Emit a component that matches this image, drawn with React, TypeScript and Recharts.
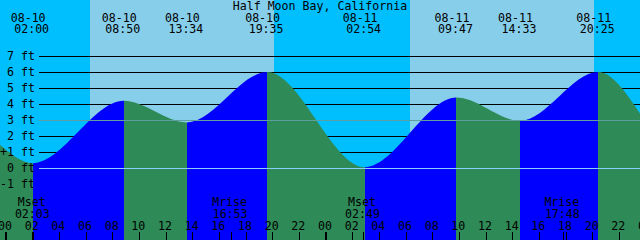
import { ComposedChart, XAxis, YAxis, Area, ReferenceArea, ReferenceLine, ReferenceDot } from 'recharts';

const stationName = 'Half Moon Bay, California';

// high / low water, as printed along the top
const eventDates = ['08-10', '08-10', '08-10', '08-10', '08-11', '08-11', '08-11', '08-11'];
const eventTimes = ['02:00', '08:50', '13:34', '19:35', '02:54', '09:47', '14:33', '20:25'];
const eventFeet = [0.3, 4.2, 2.85, 6.0, 0.05, 4.4, 2.95, 6.0];

// height of the tide where the window cuts the curve (left, right)
const edgeFeet = [1.45, 3.4];

// sunrise, sunset, sunrise, sunset
const sunDates = ['08-10', '08-10', '08-11', '08-11'];
const sunTimes = ['06:18', '20:06', '06:18', '20:06'];

const moonNames = ['Mset', 'Mrise', 'Mset', 'Mrise'];
const moonDates = ['08-10', '08-10', '08-11', '08-11'];
const moonTimes = ['02:03', '16:53', '02:49', '17:48'];

const hourTicks = [0, 2, 4, 6, 8, 10, 12, 14, 16, 18, 20, 22, 24, 26, 28, 30, 32, 34, 36, 38, 40, 42, 44, 46, 48];

const feetTicks = [7, 6, 5, 4, 3, 2, 1, 0, -1];
const feetLabels = [' 7 ft', ' 6 ft', ' 5 ft', ' 4 ft', ' 3 ft', ' 2 ft', '+1 ft', ' 0 ft', '-1 ft'];
const blackLevels = [7, 6, 5, 4, 2, 1];

const FONT = '"DejaVu Sans Mono", monospace';
const FONT_SIZE = 11.6;
const NIGHT = '#00BFFF';
const DAY = '#87CEEB';
const RISE = '#0000FF';
const FALL = '#2E8B57';

// hours since midnight of 08-10
const xMin = -0.45;
const xMax = 47.55;
const yMin = -4.5;
const yMax = 10.5;
const lineStart = 2.5;

const toHour = (date: string, time: string) => {
    const [hh, mm] = time.split(':').map(Number);
    return (date === '08-11' ? 24 : 0) + hh + mm / 60;
};

const tideData = [
    { hour: xMin, ft: edgeFeet[0] },
    ...eventTimes.map((t, i) => ({ hour: toHour(eventDates[i], t), ft: eventFeet[i] })),
    { hour: xMax, ft: edgeFeet[1] },
];

const sunHours = sunTimes.map((t, i) => toHour(sunDates[i], t));
const bands = [
    { x1: xMin, x2: sunHours[0], fill: NIGHT },
    { x1: sunHours[0], x2: sunHours[1], fill: DAY },
    { x1: sunHours[1], x2: sunHours[2], fill: NIGHT },
    { x1: sunHours[2], x2: sunHours[3], fill: DAY },
    { x1: sunHours[3], x2: xMax, fill: NIGHT },
];

// rising water blue, falling water green: hard stops at each turn of the tide
const gradientStops = () => {
    const span = xMax - xMin;
    const stops = [<stop key="s" offset={0} stopColor={FALL} />];
    let prev = FALL;
    for (let i = 1; i < tideData.length - 1; i++) {
        const p = tideData[i];
        const c = tideData[i + 1].ft > p.ft ? RISE : FALL;
        const off = (p.hour - xMin) / span;
        stops.push(<stop key={`a${i}`} offset={off} stopColor={prev} />);
        stops.push(<stop key={`b${i}`} offset={off} stopColor={c} />);
        prev = c;
    }
    stops.push(<stop key="e" offset={1} stopColor={prev} />);
    return stops;
};

const textProps = { fontFamily: FONT, fontSize: FONT_SIZE, fill: '#000' };

export default function App() {
    return (
        <div style={{ width: 640, height: 240 }}>
            <style>{'body { margin: 0; }'}</style>
            <ComposedChart width={640} height={240} data={tideData} margin={{ top: 0, right: 0, bottom: 0, left: 0 }}>
                <defs>
                    <linearGradient id="tideFill" x1="0" y1="0" x2="1" y2="0">
                        {gradientStops()}
                    </linearGradient>
                </defs>
                <XAxis type="number" dataKey="hour" domain={[xMin, xMax]} hide allowDataOverflow />
                <YAxis type="number" domain={[yMin, yMax]} hide allowDataOverflow />

                {bands.map((b, i) => (
                    <ReferenceArea
                        key={`band${i}`}
                        x1={b.x1}
                        x2={b.x2}
                        y1={yMin}
                        y2={yMax}
                        fill={b.fill}
                        fillOpacity={1}
                        stroke="none"
                        ifOverflow="visible"
                        zIndex={-60}
                    />
                ))}

                {blackLevels.map((v) => (
                    <ReferenceLine
                        key={`lvl${v}`}
                        segment={[{ x: lineStart, y: v }, { x: xMax, y: v }]}
                        stroke="#000"
                        strokeWidth={1}
                        shapeRendering="crispEdges"
                        ifOverflow="visible"
                        zIndex={-40}
                    />
                ))}

                <Area
                    type="monotone"
                    dataKey="ft"
                    fill="url(#tideFill)"
                    fillOpacity={1}
                    stroke="none"
                    baseValue="dataMin"
                    dot={false}
                    activeDot={false}
                    isAnimationActive={false}
                    zIndex={100}
                />

                <ReferenceLine
                    segment={[{ x: lineStart, y: 3 }, { x: xMax, y: 3 }]}
                    stroke="#5F9EA0"
                    strokeWidth={1}
                    shapeRendering="crispEdges"
                    ifOverflow="visible"
                    zIndex={400}
                />
                <ReferenceLine
                    segment={[{ x: lineStart, y: 0 }, { x: xMax, y: 0 }]}
                    stroke="#87CEFA"
                    strokeWidth={1}
                    shapeRendering="crispEdges"
                    ifOverflow="visible"
                    zIndex={400}
                />

                {feetTicks.map((v, i) => (
                    <ReferenceDot
                        key={`ft${v}`}
                        x={xMin}
                        y={v}
                        ifOverflow="visible"
                        zIndex={2000}
                        shape={(p: any) => (
                            <text x={p.cx} y={p.cy} dy="0.36em" style={{ whiteSpace: 'pre' }} {...textProps}>
                                {feetLabels[i]}
                            </text>
                        )}
                    />
                ))}

                <ReferenceDot
                    x={(xMin + xMax) / 2}
                    y={yMax}
                    ifOverflow="visible"
                    zIndex={2000}
                    shape={(p: any) => (
                        <text x={p.cx} y={p.cy + 9.5} textAnchor="middle" {...textProps}>
                            {stationName}
                        </text>
                    )}
                />

                {eventTimes.map((t, i) => (
                    <ReferenceDot
                        key={`ev${i}`}
                        x={toHour(eventDates[i], t)}
                        y={yMax}
                        ifOverflow="visible"
                        zIndex={2000}
                        shape={(p: any) => (
                            <g>
                                <text x={p.cx - 4.5} y={p.cy + 21.5} textAnchor="middle" {...textProps}>
                                    {eventDates[i]}
                                </text>
                                <text x={p.cx - 1} y={p.cy + 33.3} textAnchor="middle" {...textProps}>
                                    {t}
                                </text>
                            </g>
                        )}
                    />
                ))}

                {moonTimes.map((t, i) => (
                    <ReferenceDot
                        key={`moon${i}`}
                        x={toHour(moonDates[i], t)}
                        y={yMin}
                        ifOverflow="visible"
                        zIndex={2000}
                        shape={(p: any) => (
                            <g>
                                <line x1={p.cx} x2={p.cx} y1={p.cy - 8} y2={p.cy} stroke="#000" shapeRendering="crispEdges" />
                                <text x={p.cx - 1.5} y={p.cy - 34} textAnchor="middle" {...textProps}>
                                    {moonNames[i]}
                                </text>
                                <text x={p.cx - 1} y={p.cy - 22.5} textAnchor="middle" {...textProps}>
                                    {t}
                                </text>
                            </g>
                        )}
                    />
                ))}

                {hourTicks.map((h) => (
                    <ReferenceDot
                        key={`h${h}`}
                        x={h}
                        y={yMin}
                        ifOverflow="visible"
                        zIndex={2000}
                        shape={(p: any) => (
                            <g>
                                <line
                                    x1={p.cx}
                                    x2={p.cx}
                                    y1={p.cy - 8}
                                    y2={p.cy}
                                    stroke="#000"
                                    strokeWidth={h % 24 === 0 ? 2 : 1}
                                    shapeRendering="crispEdges"
                                />
                                <text x={p.cx - 1} y={p.cy - 10.5} textAnchor="middle" {...textProps}>
                                    {String(h % 24).padStart(2, '0')}
                                </text>
                            </g>
                        )}
                    />
                ))}
            </ComposedChart>
        </div>
    );
}
